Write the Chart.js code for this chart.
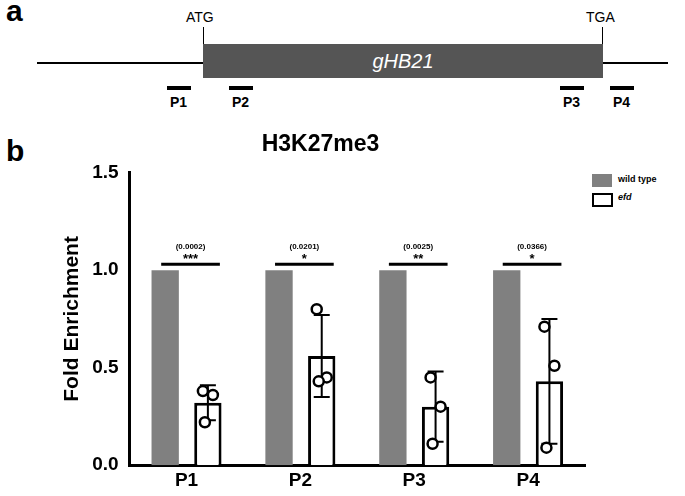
<!DOCTYPE html>
<html>
<head>
<meta charset="utf-8">
<script src="https://cdn.jsdelivr.net/npm/chart.js@4"></script>
<style>
  body { margin: 0; background: #fff; font-family: Arial, "Liberation Sans", sans-serif; }
  #wrap { position: relative; width: 685px; height: 496px; }
  .abs { position: absolute; }
  .lbl { font-size: 14px; color: #000; }
  .pl { font-size: 14px; font-weight: bold; }
  .pb { height: 4px; background: #000; width: 24px; }
</style>
</head>
<body>
<div id="wrap">
  <div class="abs" style="left:6px;top:-6px;font-size:30px;font-weight:bold">a</div>
  <div class="abs" style="left:37px;top:62px;width:631px;height:2px;background:#000"></div>
  <div class="abs" style="left:203px;top:44px;width:400px;height:34px;background:#555;color:#fff;font-style:italic;font-size:20px;text-align:center;line-height:34px">gHB21</div>
  <div class="abs" style="left:203px;top:27px;width:1px;height:17px;background:#000"></div>
  <div class="abs" style="left:602px;top:27px;width:1px;height:17px;background:#000"></div>
  <div class="abs lbl" style="left:186px;top:9px">ATG</div>
  <div class="abs lbl" style="left:586px;top:9px">TGA</div>
  <div class="abs pb" style="left:167px;top:86px"></div>
  <div class="abs pb" style="left:229px;top:86px"></div>
  <div class="abs pb" style="left:560px;top:86px"></div>
  <div class="abs pb" style="left:610px;top:86px"></div>
  <div class="abs pl" style="left:170px;top:94px">P1</div>
  <div class="abs pl" style="left:232px;top:94px">P2</div>
  <div class="abs pl" style="left:563px;top:94px">P3</div>
  <div class="abs pl" style="left:613px;top:94px">P4</div>
  <div class="abs" style="left:6px;top:134px;font-size:30px;font-weight:bold">b</div>
  <div class="abs" style="left:592px;top:174px;width:20px;height:13px;background:#808080"></div>
  <div class="abs" style="left:592px;top:193px;width:17px;height:10px;border:2px solid #000"></div>
  <div class="abs" style="left:618px;top:174px;font-size:9px;font-weight:bold">wild type</div>
  <div class="abs" style="left:618px;top:192px;font-size:9px;font-weight:bold;font-style:italic">efd</div>
  <div class="abs" style="left:0;top:125px;width:685px;height:371px"><canvas id="grafico"></canvas></div>
</div>
<script>
const categorias = ['P1', 'P2', 'P3', 'P4'];
const wildType = [1, 1, 1, 1];
const efd = [0.32, 0.56, 0.30, 0.43];
const efdSd = [0.09, 0.21, 0.18, 0.32];
const efdPontos = [[0.38, 0.36, 0.22], [0.80, 0.45, 0.43], [0.45, 0.30, 0.11], [0.71, 0.51, 0.09]];
const pValores = ['(0.0002)', '(0.0201)', '(0.0025)', '(0.0366)'];
const estrelas = ['***', '*', '**', '*'];
const yTicks = [0, 0.5, 1.0, 1.5];

// barras de erro, pontos e significancia
const extras = {
    id: 'extras',
    afterDatasetsDraw(chart) {
        const c = chart.ctx;
        const y = chart.scales.y;
        const wt = chart.getDatasetMeta(0).data;
        const ef = chart.getDatasetMeta(1).data;
        c.save();
        c.strokeStyle = '#000';
        c.fillStyle = '#000';
        ef.forEach(function (bar, i) {
            const x = bar.x;
            const top = y.getPixelForValue(efd[i] + efdSd[i]);
            const bot = y.getPixelForValue(efd[i] - efdSd[i]);
            c.lineWidth = 2;
            c.beginPath();
            c.moveTo(x, top); c.lineTo(x, bot);
            c.moveTo(x - 8, top); c.lineTo(x + 8, top);
            c.moveTo(x - 8, bot); c.lineTo(x + 8, bot);
            c.stroke();
            const offs = [-5, 5, -3];
            efdPontos[i].forEach(function (v, k) {
                c.beginPath();
                c.lineWidth = 2.5;
                c.fillStyle = '#fff';
                c.arc(x + offs[k], y.getPixelForValue(v), 5, 0, Math.PI * 2);
                c.fill();
                c.stroke();
            });
            // linha de significancia
            const ly = y.getPixelForValue(1.03);
            c.lineWidth = 3;
            c.beginPath();
            c.moveTo(wt[i].x - 4, ly); c.lineTo(x + 12, ly);
            c.stroke();
            const cx = (wt[i].x + x) / 2 + 4;
            c.fillStyle = '#000';
            c.textAlign = 'center';
            c.font = 'bold 8px Arial';
            c.fillText(pValores[i], cx, ly - 15);
            c.font = 'bold 13px Arial';
            c.fillText(estrelas[i], cx, ly - 1);
        });
        c.restore();
    }
};

const ctx = document.getElementById('grafico').getContext('2d');
const grafico = new Chart(ctx, {
    type: 'bar',
    data: {
        labels: categorias,
        datasets: [{
            label: 'wild type',
            data: wildType,
            backgroundColor: '#808080',
            borderWidth: 0
        }, {
            label: 'efd',
            data: efd,
            backgroundColor: '#fff',
            borderColor: '#000',
            borderWidth: 3
        }]
    },
    options: {
        responsive: true,
        maintainAspectRatio: false,
        animation: false,
        categoryPercentage: 0.75,
        barPercentage: 0.64,
        layout: { padding: { right: 100, top: 0, left: 56 } },
        plugins: {
            legend: { display: false },
            tooltip: { enabled: false },
            title: {
                display: true,
                text: 'H3K27me3',
                color: '#000',
                font: { size: 23, weight: 'bold', family: 'Arial' },
                padding: { top: 6, bottom: 14 }
            }
        },
        scales: {
            x: {
                grid: { display: false, drawTicks: false },
                border: { color: '#000', width: 3 },
                ticks: { color: '#000', padding: 4, font: { size: 19, weight: 'bold', family: 'Arial' } }
            },
            y: {
                min: 0, max: 1.5,
                afterBuildTicks: function (axis) {
                    axis.ticks = yTicks.map(function (v) { return { value: v }; });
                },
                grid: { display: false, drawTicks: true, tickLength: 8, tickWidth: 3, tickColor: '#000' },
                border: { color: '#000', width: 3 },
                title: {
                    display: true,
                    text: 'Fold Enrichment',
                    color: '#000',
                    font: { size: 21, weight: 'bold', family: 'Arial' }
                },
                ticks: {
                    color: '#000',
                    font: { size: 19, weight: 'bold', family: 'Arial' },
                    callback: function (value) { return value.toFixed(1); }
                }
            }
        }
    },
    plugins: [extras]
});
</script>
</body>
</html>
